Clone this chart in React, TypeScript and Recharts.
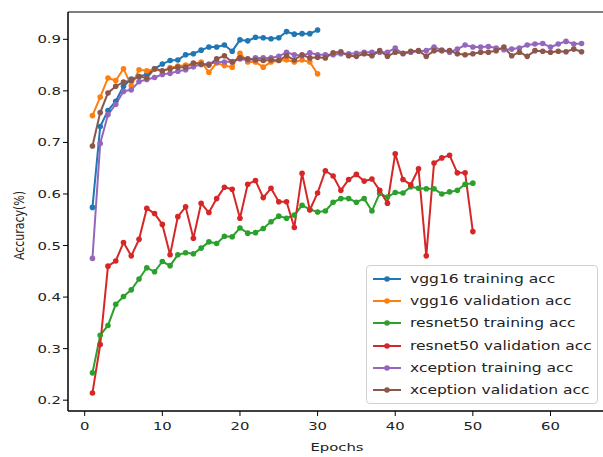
import React from "react";
import {
  LineChart,
  Line,
  XAxis,
  YAxis,
  ReferenceArea,
  Legend,
} from "recharts";

const vggTrain = [
  0.574, 0.731, 0.762, 0.78, 0.809, 0.823, 0.828, 0.832, 0.843, 0.852,
  0.859, 0.86, 0.87, 0.872, 0.879, 0.885, 0.885, 0.889, 0.877, 0.899,
  0.897, 0.904, 0.903, 0.901, 0.903, 0.915, 0.91, 0.911, 0.911, 0.918,
];
const vggVal = [
  0.752, 0.788, 0.825, 0.82, 0.843, 0.81, 0.841, 0.839, 0.842, 0.838,
  0.845, 0.848, 0.85, 0.852, 0.856, 0.836, 0.854, 0.849, 0.846, 0.873,
  0.856, 0.856, 0.846, 0.856, 0.859, 0.86, 0.856, 0.86, 0.856, 0.833,
];
const resnetTrain = [
  0.253, 0.326, 0.345, 0.386, 0.401, 0.414, 0.435, 0.457, 0.449, 0.469,
  0.461, 0.482, 0.486, 0.484, 0.495, 0.507, 0.504, 0.518, 0.517, 0.534,
  0.524, 0.525, 0.533, 0.546, 0.557, 0.553, 0.559, 0.578, 0.57, 0.565,
  0.567, 0.584, 0.591, 0.591, 0.584, 0.591, 0.567, 0.601, 0.594, 0.603,
  0.602, 0.614, 0.611, 0.61, 0.61, 0.6, 0.604, 0.607, 0.619, 0.621,
];
const resnetVal = [
  0.214, 0.308, 0.46, 0.47, 0.506, 0.48, 0.512, 0.572, 0.562, 0.541,
  0.482, 0.556, 0.575, 0.514, 0.582, 0.564, 0.591, 0.613, 0.609, 0.553,
  0.619, 0.626, 0.593, 0.611, 0.585, 0.585, 0.535, 0.64, 0.569, 0.602,
  0.645, 0.635, 0.607, 0.628, 0.638, 0.625, 0.629, 0.607, 0.582, 0.678,
  0.628, 0.618, 0.649, 0.48, 0.66, 0.67, 0.675, 0.641, 0.641, 0.527,
];
const xcepTrain = [
  0.475, 0.698, 0.754, 0.774, 0.799, 0.802, 0.818, 0.822, 0.826, 0.832,
  0.834, 0.838, 0.841, 0.847, 0.851, 0.852, 0.856, 0.856, 0.857, 0.862,
  0.86, 0.864, 0.864, 0.864, 0.867, 0.875, 0.87, 0.868, 0.874, 0.87,
  0.87, 0.87, 0.872, 0.872, 0.873, 0.875, 0.875, 0.875, 0.875, 0.883,
  0.872, 0.875, 0.877, 0.878, 0.885, 0.879, 0.875, 0.881, 0.889, 0.885,
  0.885, 0.886, 0.883, 0.88, 0.881, 0.883, 0.889, 0.891, 0.892, 0.885,
  0.891, 0.896, 0.891, 0.892,
];
const xcepVal = [
  0.693, 0.758, 0.796, 0.809, 0.817, 0.82, 0.828, 0.825, 0.843, 0.839,
  0.843, 0.846, 0.846, 0.854, 0.852, 0.85, 0.862, 0.868, 0.856, 0.864,
  0.862, 0.86, 0.859, 0.86, 0.859, 0.868, 0.86, 0.87, 0.864, 0.865,
  0.864, 0.874, 0.876, 0.868, 0.867, 0.872, 0.868, 0.878, 0.867, 0.875,
  0.873, 0.877, 0.878, 0.867, 0.878, 0.878, 0.878, 0.872, 0.87, 0.872,
  0.875, 0.875, 0.878, 0.885, 0.868, 0.875, 0.867, 0.878, 0.877, 0.875,
  0.877, 0.876, 0.881, 0.876,
];

const xTicks = [0, 10, 20, 30, 40, 50, 60];
const yTicks = [0.2, 0.3, 0.4, 0.5, 0.6, 0.7, 0.8, 0.9];

const toPoints = (vals: number[]) => vals.map((acc, i) => ({ epoch: i + 1, acc }));

const series = [
  { name: "vgg16 training acc", color: "#1f77b4", values: vggTrain },
  { name: "vgg16 validation acc", color: "#ff7f0e", values: vggVal },
  { name: "resnet50 training acc", color: "#2ca02c", values: resnetTrain },
  { name: "resnet50 validation acc", color: "#d62728", values: resnetVal },
  { name: "xception training acc", color: "#9467bd", values: xcepTrain },
  { name: "xception validation acc", color: "#8c564b", values: xcepVal },
];

const FONT = "'DejaVu Sans', sans-serif";
const FS = 11;
const SX = 1.35; // the reference picture is stretched sideways
const X_DOMAIN: [number, number] = [-2.15, 67.15];
const Y_DOMAIN: [number, number] = [0.179, 0.953];

const XTick = (props: any) => {
  const { x, y, payload } = props;
  return (
    <g transform={`translate(${x},${y}) scale(${SX},1)`}>
      <text x={0} y={0} dy={12} textAnchor="middle" fill="#222" fontSize={FS} fontFamily={FONT}>
        {payload.value}
      </text>
    </g>
  );
};

const YTick = (props: any) => {
  const { x, y, payload } = props;
  return (
    <g transform={`translate(${x},${y}) scale(${SX},1)`}>
      <text x={0} y={0} dy={4} textAnchor="end" fill="#222" fontSize={FS} fontFamily={FONT}>
        {Number(payload.value).toFixed(1)}
      </text>
    </g>
  );
};

const XTitle = (props: any) => {
  const { viewBox } = props;
  const cx = viewBox.x + viewBox.width / 2;
  return (
    <g transform={`translate(${cx},${viewBox.y + 40}) scale(${SX},1)`}>
      <text x={0} y={0} textAnchor="middle" fill="#222" fontSize={FS} fontFamily={FONT}>
        Epochs
      </text>
    </g>
  );
};

const YTitle = (props: any) => {
  const { viewBox } = props;
  const cy = viewBox.y + viewBox.height / 2 + 14;
  return (
    <g transform={`translate(24,${cy}) scale(${SX},1) rotate(-90)`}>
      <text x={0} y={0} textAnchor="middle" fill="#222" fontSize={FS} fontFamily={FONT}>
        Accuracy(%)
      </text>
    </g>
  );
};

const LegendBox = () => (
  <div
    style={{
      border: "1px solid #d0d0d0",
      borderRadius: 4,
      background: "rgba(255,255,255,0.8)",
      padding: "2px 0 2px 6px",
      width: 224,
      fontFamily: FONT,
      fontSize: 11.5,
      color: "#222",
    }}
  >
    {series.map((s) => (
      <div key={s.name} style={{ display: "flex", alignItems: "center", height: 22.2 }}>
        <svg width={28} height={10} style={{ marginRight: 9, flex: "none" }}>
          <line x1={0} y1={5} x2={28} y2={5} stroke={s.color} strokeWidth={2} />
          <circle cx={14} cy={5} r={2.8} fill={s.color} />
        </svg>
        <span style={{ display: "inline-block", transform: `scaleX(${SX})`, transformOrigin: "left center", whiteSpace: "nowrap" }}>
          {s.name}
        </span>
      </div>
    ))}
  </div>
);

export default function App() {
  return (
    <div
      style={{
        position: "fixed",
        left: 0,
        top: 0,
        width: 603,
        height: 457,
        overflow: "hidden",
        background: "#fff",
      }}
    >
      <LineChart
        width={620}
        height={457}
        margin={{ top: 12, right: 14, left: 0, bottom: 0 }}
        style={{ fontFamily: FONT }}
      >
        <XAxis
          dataKey="epoch"
          type="number"
          domain={X_DOMAIN}
          allowDataOverflow
          ticks={xTicks}
          height={46}
          axisLine={{ stroke: "#000" }}
          tickLine={{ stroke: "#000" }}
          tickSize={5}
          tick={<XTick />}
          label={<XTitle />}
        />
        <YAxis
          type="number"
          domain={Y_DOMAIN}
          allowDataOverflow
          ticks={yTicks}
          width={68}
          axisLine={{ stroke: "#000" }}
          tickLine={{ stroke: "#000" }}
          tickSize={5}
          tick={<YTick />}
          label={<YTitle />}
        />
        <ReferenceArea
          x1={X_DOMAIN[0]}
          x2={X_DOMAIN[1]}
          y1={Y_DOMAIN[0]}
          y2={Y_DOMAIN[1]}
          fill="none"
          stroke="#000"
          strokeWidth={1}
        />
        {series.map((s) => (
          <Line
            key={s.name}
            data={toPoints(s.values)}
            dataKey="acc"
            name={s.name}
            type="linear"
            stroke={s.color}
            strokeWidth={2}
            dot={{ r: 2.8, fill: s.color, stroke: s.color, strokeWidth: 0 }}
            activeDot={false}
            isAnimationActive={false}
          />
        ))}
        <Legend
          layout="vertical"
          align="center"
          verticalAlign="middle"
          wrapperStyle={{ left: 366, top: 265, width: "auto" }}
          content={() => <LegendBox />}
        />
      </LineChart>
    </div>
  );
}
